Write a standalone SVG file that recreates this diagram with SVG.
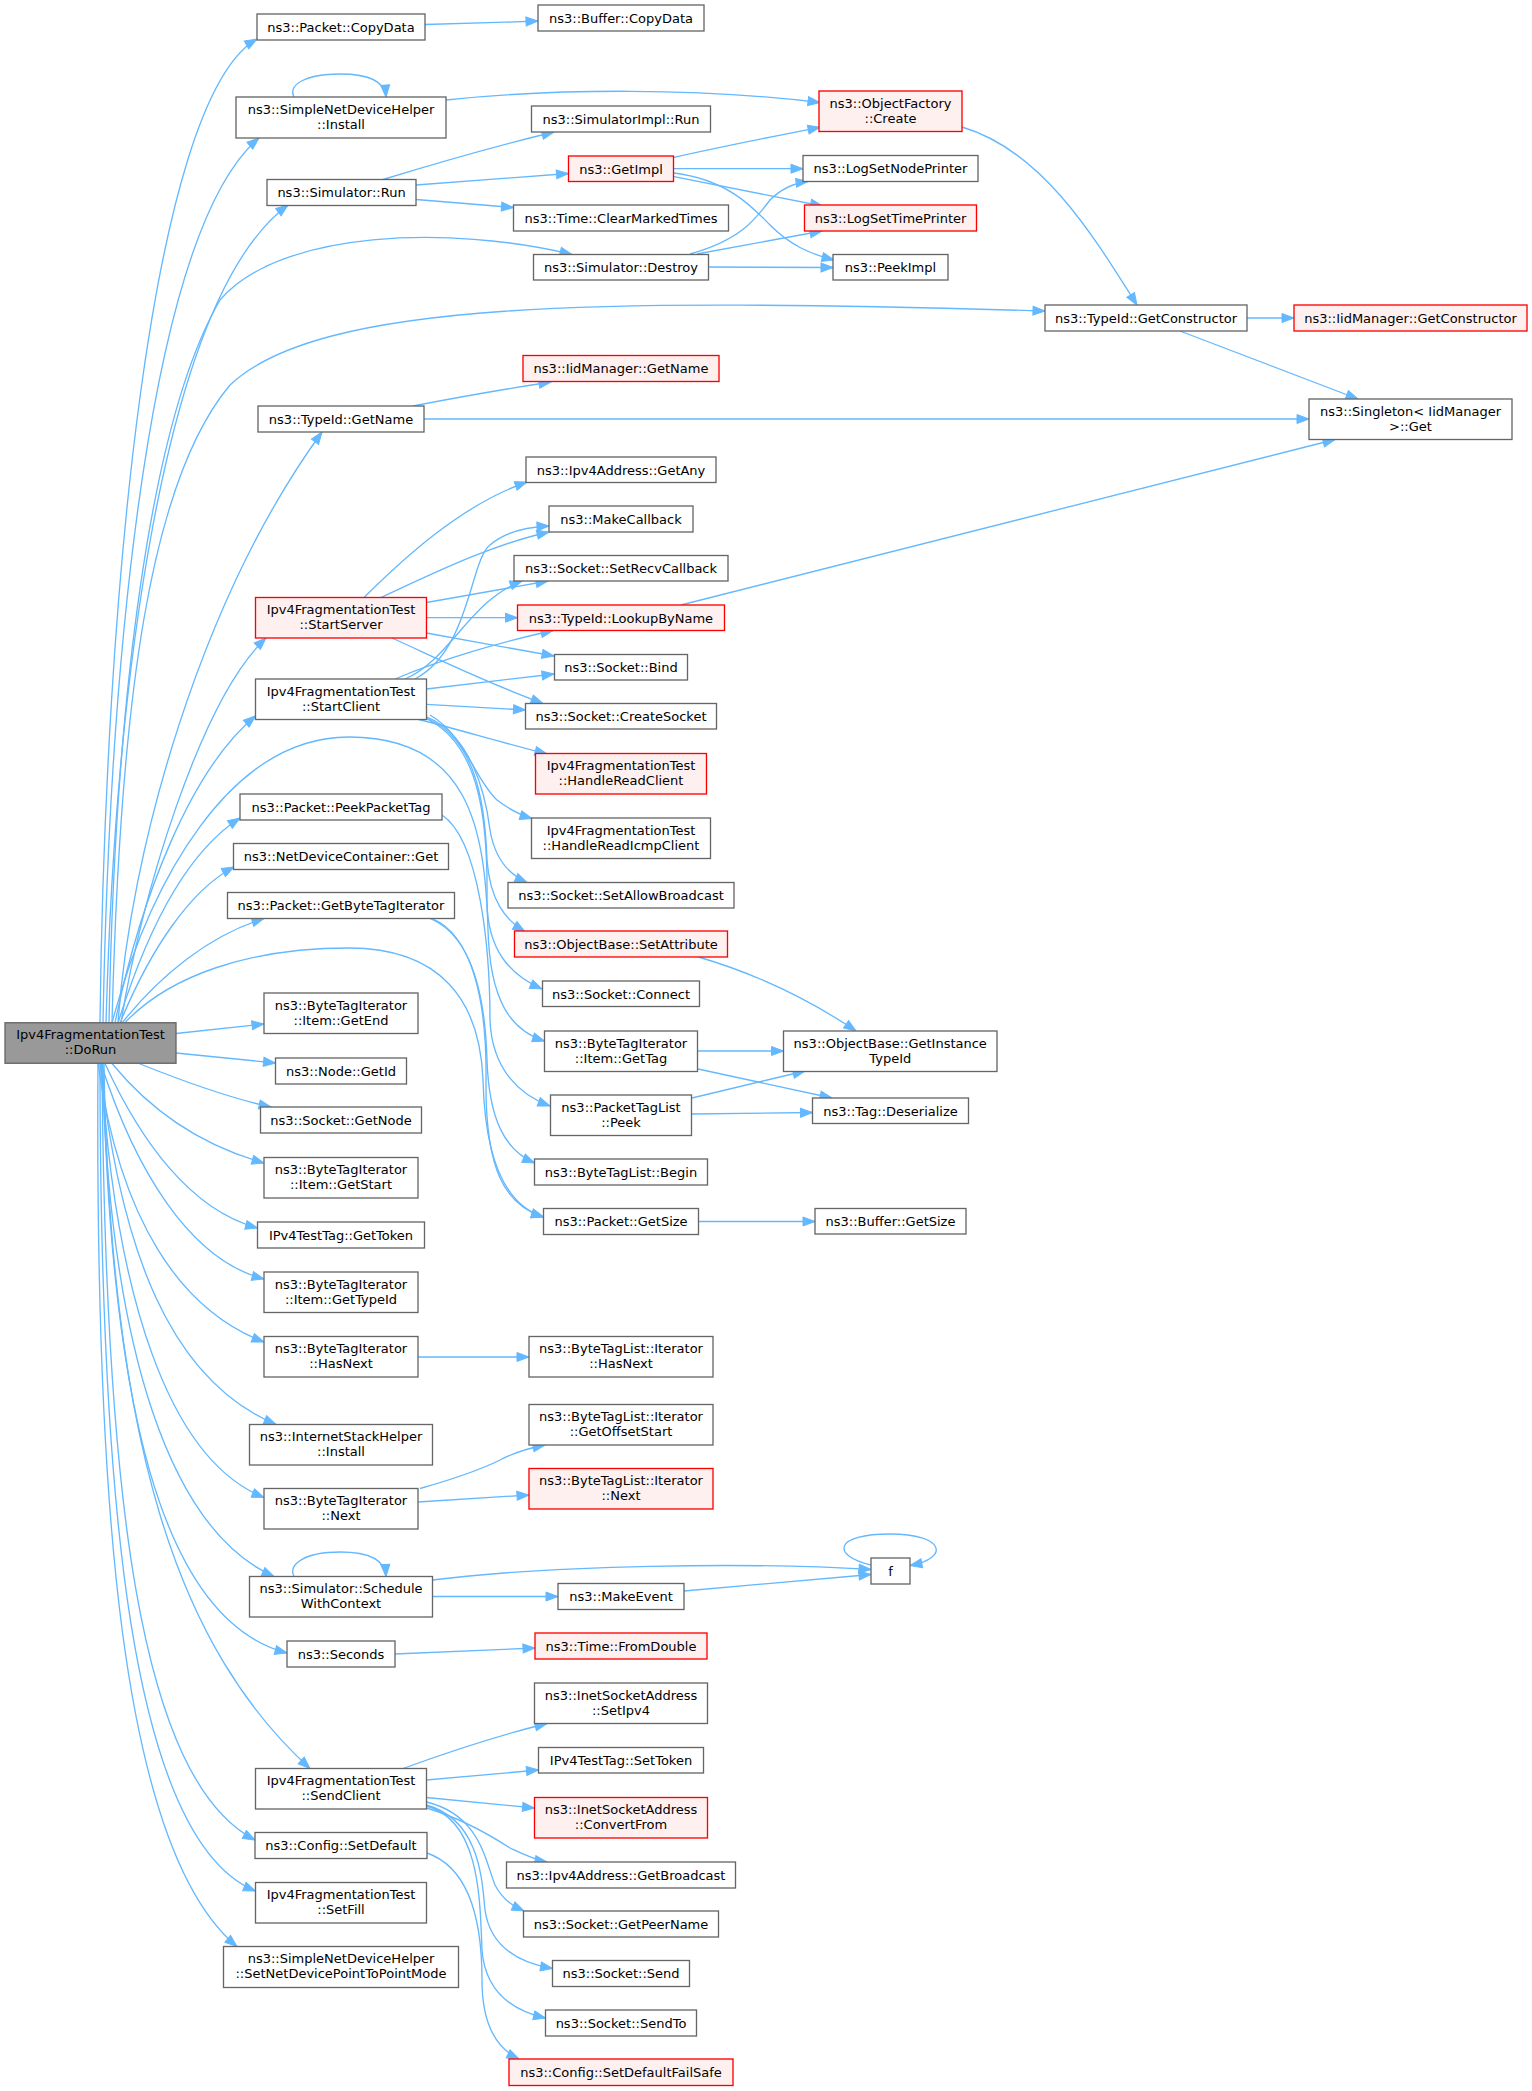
<svg xmlns="http://www.w3.org/2000/svg" width="1532" height="2091" viewBox="0 0 1532 2091">
<style>
.n rect{fill:#ffffff;stroke:#666666;stroke-width:1.33}
.r rect{fill:#fff0f0;stroke:#ff0000;stroke-width:1.33}
.g rect{fill:#999999;stroke:#666666;stroke-width:1.33}
text{font-family:"DejaVu Sans","Liberation Sans",sans-serif;font-size:13px;fill:#000000;text-anchor:middle}
#edges path{fill:none;stroke:#63b8ff;stroke-width:1.33;marker-end:url(#a)}
</style>
<defs>
<marker id="a" markerWidth="13" markerHeight="10" refX="12" refY="4.5" orient="auto" markerUnits="userSpaceOnUse" overflow="visible">
<path d="M0,0 L12,4.5 L0,9 z" fill="#63b8ff" stroke="#63b8ff" stroke-width="1"/>
</marker>
</defs>
<rect x="0" y="0" width="1532" height="2091" fill="#ffffff"/>
<g id="edges">
<path d="M425,24.5 C460,23.5 500,22.5 538,21"/>
<path d="M294,97 C288,85 305,74 340,74 C370,74 385,82 386,97"/>
<path d="M446,100 C560,88 700,88 820,102.5"/>
<path d="M383,179.5 C440,162 500,145 554,132"/>
<path d="M416,185 C470,181 520,177 568.5,173.5"/>
<path d="M416,199.5 C450,202 480,205 513.5,207.5"/>
<path d="M674,157.3 C720,147 770,137 820,127.3"/>
<path d="M674,168.7 L803,168.7"/>
<path d="M674,176.7 L822.5,206"/>
<path d="M674,173 C730,180 755,210 770,225 C790,245 810,254 834,260"/>
<path d="M690,254 C740,240 755,220 770,200 C782,188 795,183 808,181.5"/>
<path d="M697,254 L822,231"/>
<path d="M708,267 L833,267.5"/>
<path d="M962,127 C1040,150 1090,230 1137,305"/>
<path d="M1247,318 L1294,318"/>
<path d="M1180,331 L1358,399"/>
<path d="M413,406 C460,397 505,389 551,382"/>
<path d="M424,419 L1309,419"/>
<path d="M681,605 L1335,439.5"/>
<path d="M364,597.5 C400,562 460,505 527,482"/>
<path d="M381,597.5 C430,575 490,545 549,532"/>
<path d="M426.5,602.5 L548,581"/>
<path d="M426.5,617.7 L517.5,617.7"/>
<path d="M426.5,633 C470,641 510,648 554,656"/>
<path d="M392,638 C430,655 480,680 543,703.5"/>
<path d="M395,679 C440,660 500,642 553,630.5"/>
<path d="M405,679 C450,660 470,600 522,581"/>
<path d="M415,679 C470,650 470,560 490,545 C505,532 525,527 549,526"/>
<path d="M426.5,689 L554,674"/>
<path d="M426.5,704.3 L525.5,710"/>
<path d="M417,719 C460,730 500,742 547,754"/>
<path d="M430,715 C465,735 475,780 497,800 C510,810 520,815 532,818.5"/>
<path d="M427,717 C470,735 485,790 490,830 C495,860 510,875 527,882.5"/>
<path d="M427,718 C475,740 485,800 487,860 C490,900 505,920 525,931.5"/>
<path d="M427,719 C480,745 488,820 487,900 C487,950 510,975 542,989"/>
<path d="M442,815 C480,840 490,950 490,1020 C492,1070 520,1095 550,1106"/>
<path d="M430,918.5 C470,935 485,990 487,1060 C489,1120 505,1150 534.5,1163"/>
<path d="M432,918.5 C472,935 487,1000 486,1080 C485,1170 505,1205 543.5,1217"/>
<path d="M112,1023 C150,880 230,737 349,737 C470,737 485,830 488,930 C490,1000 510,1030 544.5,1041"/>
<path d="M124.6,1023 C170,975 250,948 349,948 C440,948 480,1000 483,1080 C485,1160 505,1205 543.5,1217"/>
<path d="M100,1023 C105,600 150,100 257,39"/>
<path d="M103,1023 C110,650 150,230 259,138"/>
<path d="M106,1023 C115,700 160,300 288,205"/>
<path d="M109,1023 C115,700 150,420 220,300 C280,230 450,225 572,254.5"/>
<path d="M112,1023 C120,700 150,480 230,385 C320,300 600,298 1045,311"/>
<path d="M118,1023 C130,850 200,600 322,432"/>
<path d="M121,1023 C140,900 200,700 266,638"/>
<path d="M115,1023 C140,900 190,770 255.5,716"/>
<path d="M118,1023 C150,920 190,850 240,818"/>
<path d="M120,1023 C150,950 190,890 234,867"/>
<path d="M122,1023 C160,975 210,935 264,918.5"/>
<path d="M176,1033.5 L264,1024"/>
<path d="M176,1053 L275.5,1063"/>
<path d="M139,1063.5 C180,1080 225,1097 271,1107"/>
<path d="M112,1063.5 C150,1110 200,1145 264,1163"/>
<path d="M105,1063.5 C140,1140 190,1210 257.5,1228"/>
<path d="M101,1063.5 C135,1170 190,1260 264,1279"/>
<path d="M98,1063.5 C120,1220 180,1310 264,1342"/>
<path d="M100,1063.5 C120,1250 170,1380 276,1424.5"/>
<path d="M101,1063.5 C115,1300 170,1460 264,1497.5"/>
<path d="M102,1063.5 C110,1350 170,1530 274,1576.5"/>
<path d="M103,1063.5 C110,1400 160,1620 287,1653"/>
<path d="M104,1063.5 C110,1450 180,1650 310,1768.5"/>
<path d="M102,1063.5 C105,1500 140,1780 255,1840"/>
<path d="M100,1063.5 C100,1500 130,1840 255.5,1891"/>
<path d="M98,1063.5 C95,1500 120,1850 237,1946.5"/>
<path d="M418,1357 L529,1357"/>
<path d="M420,1488.5 C450,1480 480,1470 500,1460 C515,1452 530,1448 545,1445"/>
<path d="M418,1502 L529,1495"/>
<path d="M294,1576.5 C288,1564 305,1552 340,1552 C370,1552 385,1560 386,1576.5"/>
<path d="M432.5,1580 C550,1565 750,1562 871,1569.5"/>
<path d="M432.5,1596.5 L558,1596.5"/>
<path d="M684,1591 L871,1574.5"/>
<path d="M871,1565 C830,1555 835,1534 890,1534 C945,1534 950,1558 910,1565.5"/>
<path d="M394.5,1654 L535,1648"/>
<path d="M403,1768.5 C440,1755 500,1735 547,1723.5"/>
<path d="M426.5,1780 L538.5,1770"/>
<path d="M426.5,1797.5 L534.5,1808"/>
<path d="M426.5,1808 C460,1818 490,1835 510,1848 C525,1855 535,1860 547,1862"/>
<path d="M426.5,1802 C480,1815 485,1860 495,1885 C503,1900 513,1906 524,1911"/>
<path d="M426.5,1805 C480,1820 482,1880 485,1910 C490,1945 515,1962 552.5,1968.5"/>
<path d="M426.5,1806 C480,1820 480,1900 482,1950 C485,1990 510,2010 545.5,2018"/>
<path d="M427,1853 C470,1868 482,1920 482,1980 C482,2030 500,2050 519,2059"/>
<path d="M698,1051 L783.5,1051"/>
<path d="M698,1069 L832,1098"/>
<path d="M692,1098 L805,1071"/>
<path d="M692,1114 L812.5,1112.5"/>
<path d="M698.5,957 C760,975 810,1000 856,1031"/>
<path d="M698.5,1221.5 L815,1221.5"/>
</g>
<g id="n_dorun" class="g"><rect x="5" y="1022.75" width="171" height="40.5"/><text x="90.5" y="1039">Ipv4FragmentationTest</text><text x="90.5" y="1054">::DoRun</text></g>
<g id="n_copydata" class="n"><rect x="257" y="14" width="168" height="26"/><text x="341" y="31.5">ns3::Packet::CopyData</text></g>
<g id="n_sndh_install" class="n"><rect x="236" y="97" width="210" height="41"/><text x="341" y="113.5">ns3::SimpleNetDeviceHelper</text><text x="341" y="128.5">::Install</text></g>
<g id="n_sim_run" class="n"><rect x="267" y="179.5" width="149" height="26"/><text x="341.5" y="197">ns3::Simulator::Run</text></g>
<g id="n_typeid_getname" class="n"><rect x="258" y="406" width="166" height="26"/><text x="341" y="423.5">ns3::TypeId::GetName</text></g>
<g id="n_startserver" class="r"><rect x="255.5" y="597.5" width="171" height="40.5"/><text x="341" y="614">Ipv4FragmentationTest</text><text x="341" y="629">::StartServer</text></g>
<g id="n_startclient" class="n"><rect x="255.5" y="679" width="171" height="40.5"/><text x="341" y="695.5">Ipv4FragmentationTest</text><text x="341" y="710.5">::StartClient</text></g>
<g id="n_peekpackettag" class="n"><rect x="240" y="794" width="202" height="26"/><text x="341" y="811.5">ns3::Packet::PeekPacketTag</text></g>
<g id="n_ndc_get" class="n"><rect x="233.5" y="843.5" width="215" height="26"/><text x="341" y="861">ns3::NetDeviceContainer::Get</text></g>
<g id="n_getbytetagiterator" class="n"><rect x="227.5" y="892.5" width="227" height="26"/><text x="341" y="910">ns3::Packet::GetByteTagIterator</text></g>
<g id="n_item_getend" class="n"><rect x="264" y="993" width="154" height="40.5"/><text x="341" y="1009.5">ns3::ByteTagIterator</text><text x="341" y="1024.5">::Item::GetEnd</text></g>
<g id="n_node_getid" class="n"><rect x="275.5" y="1058" width="131" height="26"/><text x="341" y="1075.5">ns3::Node::GetId</text></g>
<g id="n_socket_getnode" class="n"><rect x="260.5" y="1107" width="161" height="26"/><text x="341" y="1124.5">ns3::Socket::GetNode</text></g>
<g id="n_item_getstart" class="n"><rect x="264" y="1157.5" width="154" height="40.5"/><text x="341" y="1174">ns3::ByteTagIterator</text><text x="341" y="1189">::Item::GetStart</text></g>
<g id="n_gettoken" class="n"><rect x="257.5" y="1222" width="167" height="26"/><text x="341" y="1239.5">IPv4TestTag::GetToken</text></g>
<g id="n_item_gettypeid" class="n"><rect x="264" y="1272" width="154" height="40.5"/><text x="341" y="1288.5">ns3::ByteTagIterator</text><text x="341" y="1303.5">::Item::GetTypeId</text></g>
<g id="n_bti_hasnext" class="n"><rect x="264" y="1336.5" width="154" height="40.5"/><text x="341" y="1353">ns3::ByteTagIterator</text><text x="341" y="1368">::HasNext</text></g>
<g id="n_ish_install" class="n"><rect x="249.5" y="1424.5" width="183" height="40.5"/><text x="341" y="1441">ns3::InternetStackHelper</text><text x="341" y="1456">::Install</text></g>
<g id="n_bti_next" class="n"><rect x="264" y="1488.5" width="154" height="40.5"/><text x="341" y="1505">ns3::ByteTagIterator</text><text x="341" y="1520">::Next</text></g>
<g id="n_schedule" class="n"><rect x="249.5" y="1576.5" width="183" height="40.5"/><text x="341" y="1593">ns3::Simulator::Schedule</text><text x="341" y="1608">WithContext</text></g>
<g id="n_seconds" class="n"><rect x="287" y="1641" width="108" height="26"/><text x="341" y="1658.5">ns3::Seconds</text></g>
<g id="n_sendclient" class="n"><rect x="255.5" y="1768.5" width="171" height="40.5"/><text x="341" y="1785">Ipv4FragmentationTest</text><text x="341" y="1800">::SendClient</text></g>
<g id="n_setdefault" class="n"><rect x="255" y="1832.5" width="172" height="26"/><text x="341" y="1850">ns3::Config::SetDefault</text></g>
<g id="n_setfill" class="n"><rect x="255.5" y="1882.5" width="171" height="40.5"/><text x="341" y="1899">Ipv4FragmentationTest</text><text x="341" y="1914">::SetFill</text></g>
<g id="n_sndptp" class="n"><rect x="223.5" y="1946.5" width="235" height="41"/><text x="341" y="1963">ns3::SimpleNetDeviceHelper</text><text x="341" y="1978">::SetNetDevicePointToPointMode</text></g>
<g id="n_buffer_copydata" class="n"><rect x="538" y="5" width="166" height="26"/><text x="621" y="22.5">ns3::Buffer::CopyData</text></g>
<g id="n_simimpl_run" class="n"><rect x="531.5" y="106" width="179" height="26"/><text x="621" y="123.5">ns3::SimulatorImpl::Run</text></g>
<g id="n_getimpl" class="r"><rect x="568.5" y="156" width="105" height="25.5"/><text x="621" y="173.5">ns3::GetImpl</text></g>
<g id="n_clearmarked" class="n"><rect x="513.5" y="205" width="215" height="26"/><text x="621" y="222.5">ns3::Time::ClearMarkedTimes</text></g>
<g id="n_destroy" class="n"><rect x="533.5" y="254.5" width="175" height="25.5"/><text x="621" y="272">ns3::Simulator::Destroy</text></g>
<g id="n_iid_getname" class="r"><rect x="523" y="355.5" width="196" height="26"/><text x="621" y="373">ns3::IidManager::GetName</text></g>
<g id="n_getany" class="n"><rect x="526" y="457" width="190" height="25.5"/><text x="621" y="474.5">ns3::Ipv4Address::GetAny</text></g>
<g id="n_makecallback" class="n"><rect x="549" y="506" width="144" height="26"/><text x="621" y="523.5">ns3::MakeCallback</text></g>
<g id="n_setrecvcallback" class="n"><rect x="514" y="555.5" width="214" height="25.5"/><text x="621" y="573">ns3::Socket::SetRecvCallback</text></g>
<g id="n_lookupbyname" class="r"><rect x="517.5" y="605" width="207" height="25.5"/><text x="621" y="622.5">ns3::TypeId::LookupByName</text></g>
<g id="n_bind" class="n"><rect x="554.5" y="654.5" width="133" height="25.5"/><text x="621" y="672">ns3::Socket::Bind</text></g>
<g id="n_createsocket" class="n"><rect x="525.5" y="703.5" width="191" height="25.5"/><text x="621" y="721">ns3::Socket::CreateSocket</text></g>
<g id="n_handlereadclient" class="r"><rect x="535.5" y="753.5" width="171" height="40.5"/><text x="621" y="770">Ipv4FragmentationTest</text><text x="621" y="785">::HandleReadClient</text></g>
<g id="n_handlereadicmp" class="n"><rect x="531.5" y="818" width="179" height="40.5"/><text x="621" y="834.5">Ipv4FragmentationTest</text><text x="621" y="849.5">::HandleReadIcmpClient</text></g>
<g id="n_setallowbroadcast" class="n"><rect x="508" y="882.5" width="226" height="25.5"/><text x="621" y="900">ns3::Socket::SetAllowBroadcast</text></g>
<g id="n_setattribute" class="r"><rect x="514.5" y="931" width="213" height="26"/><text x="621" y="948.5">ns3::ObjectBase::SetAttribute</text></g>
<g id="n_connect" class="n"><rect x="542.5" y="981" width="157" height="25.5"/><text x="621" y="998.5">ns3::Socket::Connect</text></g>
<g id="n_item_gettag" class="n"><rect x="544.5" y="1031" width="153" height="40.5"/><text x="621" y="1047.5">ns3::ByteTagIterator</text><text x="621" y="1062.5">::Item::GetTag</text></g>
<g id="n_ptl_peek" class="n"><rect x="550.5" y="1095" width="141" height="40.5"/><text x="621" y="1111.5">ns3::PacketTagList</text><text x="621" y="1126.5">::Peek</text></g>
<g id="n_btl_begin" class="n"><rect x="534.5" y="1159" width="173" height="26"/><text x="621" y="1176.5">ns3::ByteTagList::Begin</text></g>
<g id="n_packet_getsize" class="n"><rect x="543.5" y="1208.5" width="155" height="26"/><text x="621" y="1226">ns3::Packet::GetSize</text></g>
<g id="n_btli_hasnext" class="n"><rect x="529" y="1336.5" width="184" height="40.5"/><text x="621" y="1353">ns3::ByteTagList::Iterator</text><text x="621" y="1368">::HasNext</text></g>
<g id="n_btli_getoffsetstart" class="n"><rect x="529" y="1404.5" width="184" height="40.5"/><text x="621" y="1421">ns3::ByteTagList::Iterator</text><text x="621" y="1436">::GetOffsetStart</text></g>
<g id="n_btli_next" class="r"><rect x="529" y="1468.5" width="184" height="40.5"/><text x="621" y="1485">ns3::ByteTagList::Iterator</text><text x="621" y="1500">::Next</text></g>
<g id="n_makeevent" class="n"><rect x="558" y="1583.5" width="126" height="26"/><text x="621" y="1601">ns3::MakeEvent</text></g>
<g id="n_fromdouble" class="r"><rect x="535" y="1633" width="172" height="26"/><text x="621" y="1650.5">ns3::Time::FromDouble</text></g>
<g id="n_setipv4" class="n"><rect x="534.5" y="1683" width="173" height="40.5"/><text x="621" y="1699.5">ns3::InetSocketAddress</text><text x="621" y="1714.5">::SetIpv4</text></g>
<g id="n_settoken" class="n"><rect x="538.5" y="1747.5" width="165" height="25.5"/><text x="621" y="1765">IPv4TestTag::SetToken</text></g>
<g id="n_convertfrom" class="r"><rect x="534.5" y="1797.5" width="173" height="40.5"/><text x="621" y="1814">ns3::InetSocketAddress</text><text x="621" y="1829">::ConvertFrom</text></g>
<g id="n_getbroadcast" class="n"><rect x="506.5" y="1862" width="229" height="26"/><text x="621" y="1879.5">ns3::Ipv4Address::GetBroadcast</text></g>
<g id="n_getpeername" class="n"><rect x="523.5" y="1911" width="195" height="26"/><text x="621" y="1928.5">ns3::Socket::GetPeerName</text></g>
<g id="n_send" class="n"><rect x="552.5" y="1960.5" width="137" height="26"/><text x="621" y="1978">ns3::Socket::Send</text></g>
<g id="n_sendto" class="n"><rect x="545.5" y="2010" width="151" height="26"/><text x="621" y="2027.5">ns3::Socket::SendTo</text></g>
<g id="n_setdefaultfailsafe" class="r"><rect x="509" y="2059" width="224" height="26.5"/><text x="621" y="2076.5">ns3::Config::SetDefaultFailSafe</text></g>
<g id="n_of_create" class="r"><rect x="819" y="91" width="143" height="40.5"/><text x="890.5" y="107.5">ns3::ObjectFactory</text><text x="890.5" y="122.5">::Create</text></g>
<g id="n_lognode" class="n"><rect x="803" y="155.5" width="175" height="26"/><text x="890.5" y="173">ns3::LogSetNodePrinter</text></g>
<g id="n_logtime" class="r"><rect x="804.5" y="205" width="172" height="26"/><text x="890.5" y="222.5">ns3::LogSetTimePrinter</text></g>
<g id="n_peekimpl" class="n"><rect x="833" y="254.5" width="115" height="25.5"/><text x="890.5" y="272">ns3::PeekImpl</text></g>
<g id="n_getinstancetypeid" class="n"><rect x="783.5" y="1031" width="213.5" height="40.5"/><text x="890.25" y="1047.5">ns3::ObjectBase::GetInstance</text><text x="890.25" y="1062.5">TypeId</text></g>
<g id="n_tag_deserialize" class="n"><rect x="812.5" y="1098" width="156" height="25.5"/><text x="890.5" y="1115.5">ns3::Tag::Deserialize</text></g>
<g id="n_buffer_getsize" class="n"><rect x="815" y="1208.5" width="151" height="25.5"/><text x="890.5" y="1226">ns3::Buffer::GetSize</text></g>
<g id="n_f" class="n"><rect x="871" y="1558" width="39" height="26"/><text x="890.5" y="1575.5">f</text></g>
<g id="n_getconstructor" class="n"><rect x="1045" y="305" width="202" height="26"/><text x="1146" y="322.5">ns3::TypeId::GetConstructor</text></g>
<g id="n_iid_getconstructor" class="r"><rect x="1294" y="305" width="233" height="26"/><text x="1410.5" y="322.5">ns3::IidManager::GetConstructor</text></g>
<g id="n_singleton_get" class="n"><rect x="1309" y="399" width="203" height="40.5"/><text x="1410.5" y="415.5">ns3::Singleton&lt; IidManager</text><text x="1410.5" y="430.5">&gt;::Get</text></g>
</svg>
